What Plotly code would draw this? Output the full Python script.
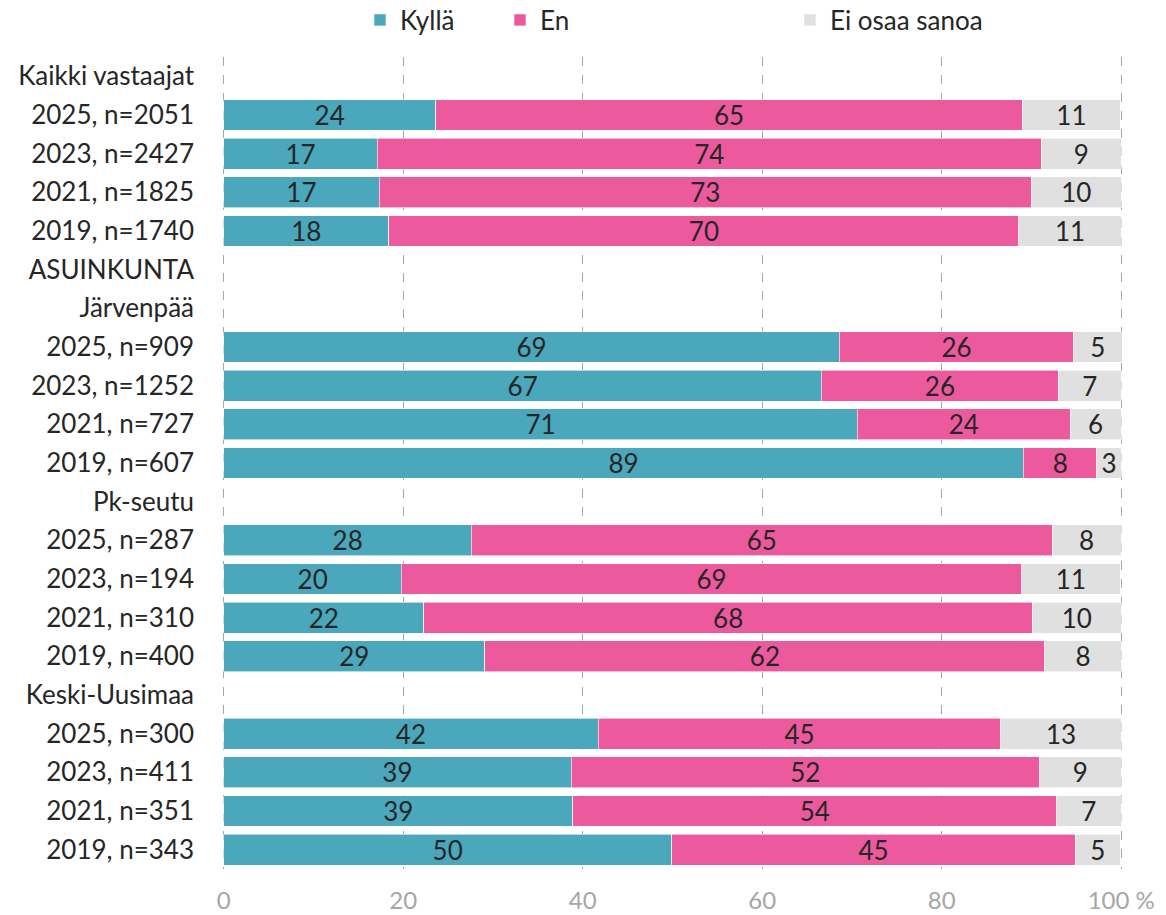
import plotly.graph_objects as go

categories = [
    "Kaikki vastaajat",
    "2025, n=2051", "2023, n=2427", "2021, n=1825", "2019, n=1740",
    "ASUINKUNTA",
    "Järvenpää",
    "2025, n=909", "2023, n=1252", "2021, n=727", "2019, n=607",
    "Pk-seutu",
    "2025, n=287", "2023, n=194", "2021, n=310", "2019, n=400",
    "Keski-Uusimaa",
    "2025, n=300", "2023, n=411", "2021, n=351", "2019, n=343",
]

kylla = [None, 23.6, 17.1, 17.3, 18.4, None, None, 68.6, 66.6, 70.6, 89.1,
         None, 27.6, 19.8, 22.3, 29.1, None, 41.7, 38.7, 38.9, 49.9]
en = [None, 65.4, 74.0, 72.7, 70.2, None, None, 26.1, 26.4, 23.7, 8.2,
      None, 64.7, 69.1, 67.8, 62.4, None, 44.9, 52.2, 53.9, 45.0]
ei = [None, 10.9, 8.9, 10.0, 11.4, None, None, 5.4, 7.0, 5.7, 2.7,
      None, 7.7, 11.0, 9.9, 8.5, None, 13.4, 9.1, 7.2, 5.0]

tick_vals = [0, 20, 40, 60, 80, 100]
tick_text = ["0", "20", "40", "60", "80", "100 %"]

series = [
    ("Kyllä", kylla, "#4BA7BC", "legend"),
    ("En", en, "#EC5A9D", "legend2"),
    ("Ei osaa sanoa", ei, "#E0E0E0", "legend3"),
]

FONT = "Lato"
TXT = "#262626"
FS = 26

fig = go.Figure()
for name, vals, color, lg in series:
    fig.add_trace(go.Bar(
        y=categories, x=vals, name=name, orientation="h", legend=lg,
        marker=dict(color=color, line=dict(color="white", width=0.6)),
        text=[None if v is None else f"{v:.0f}" for v in vals],
        textposition="inside", insidetextanchor="middle", textangle=0,
        textfont=dict(family=FONT, size=FS, color=TXT),
        hovertemplate="%{y}<br>" + name + ": %{x:.0f}<extra></extra>",
    ))

L, R, T, B = 222, 43, 57, 46
pw = 1166 - L - R
ph = 915 - T - B


def lg_x(px):
    return (px - L) / pw


leg_common = dict(orientation="h", yanchor="middle", xanchor="left",
                  y=1 + (T - 20) / ph, font=dict(family=FONT, size=FS, color=TXT),
                  itemwidth=30, bgcolor="rgba(0,0,0,0)")

fig.update_layout(
    barmode="stack",
    bargap=0.2,
    width=1166, height=915,
    margin=dict(l=L, r=R, t=T, b=B, autoexpand=False),
    paper_bgcolor="white", plot_bgcolor="white",
    font=dict(family=FONT, size=FS, color=TXT),
    uniformtext=dict(minsize=FS, mode="show"),
    legend=dict(leg_common, x=lg_x(360)),
    legend2=dict(leg_common, x=lg_x(500)),
    legend3=dict(leg_common, x=lg_x(790)),
    showlegend=True,
)

fig.update_xaxes(
    range=[-0.2, 100.2], tickvals=tick_vals, ticktext=tick_text,
    showgrid=True, gridcolor="#A6A6A6", gridwidth=1, griddash="dash",
    zeroline=False, showline=False, automargin=False,
    tickfont=dict(family=FONT, size=24, color="#A6A6A6"),
    ticks="", ticklabelstandoff=15,
)
fig.update_yaxes(
    categoryorder="array", categoryarray=categories, autorange="reversed",
    showgrid=False, zeroline=False, showline=False, automargin=False,
    tickfont=dict(family=FONT, size=FS, color=TXT),
    ticks="", ticklabelstandoff=27,
)

fig.write_html(
    "out.html",
    config={"displayModeBar": False},
    post_script="document.body.style.margin='0';document.body.style.overflow='hidden';",
)
